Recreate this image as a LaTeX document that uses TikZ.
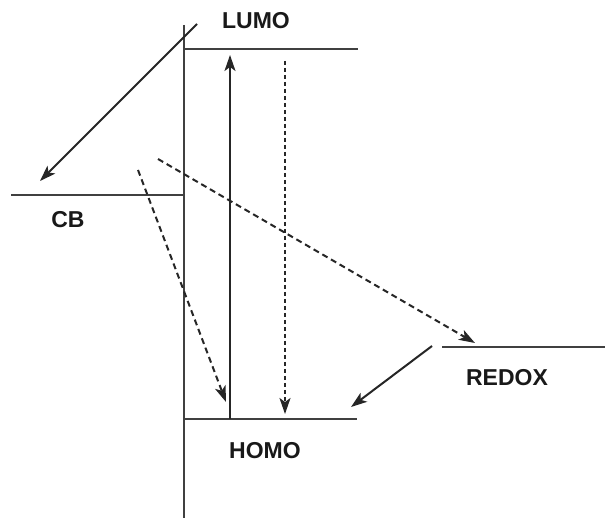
\documentclass[tikz,border=0pt]{standalone}
\usepackage{fontspec}
\setmainfont{Liberation Sans}
\usetikzlibrary{arrows.meta}
\begin{document}
\begin{tikzpicture}[x=1pt,y=-1pt,
  lvl/.style={draw=black!75,line width=2.2pt},
  lbl/.style={font=\fontsize{23}{25}\selectfont\bfseries,text=black!90,inner sep=0pt},
  arr/.style={draw=black!85,line width=2pt,-{Stealth[length=16pt,width=11pt,inset=4pt]}},
  darr/.style={arr,dash pattern=on 6pt off 4pt},
  dotarr/.style={arr,dash pattern=on 4pt off 3pt}]
\useasboundingbox[fill=white] (0,0) rectangle (605,518);
% axis
\coordinate (axtop) at (184,25);
\coordinate (axbot) at (184,518);
\draw[lvl] (axtop) -- (axbot);
% levels
\coordinate (lumoL) at (184,49); \coordinate (lumoR) at (358,49);
\coordinate (cbL) at (11,195); \coordinate (cbR) at (184,195);
\coordinate (homoL) at (184,419); \coordinate (homoR) at (357,419);
\coordinate (redL) at (442,347); \coordinate (redR) at (605,347);
\draw[lvl] (lumoL) -- (lumoR);
\draw[lvl] (cbL) -- (cbR);
\draw[lvl] (homoL) -- (homoR);
\draw[lvl] (redL) -- (redR);
% labels
\node[lbl] (lumo) at (256,21) {LUMO};
\node[lbl] (cb) at (68,220) {CB};
\node[lbl] (homo) at (265,451) {HOMO};
\node[lbl] (redox) at (507,378) {REDOX};
% arrows
\coordinate (upS) at (230,419); \coordinate (upE) at (230,55);
\draw[arr] (upS) -- (upE);
\coordinate (dnS) at (285,61); \coordinate (dnE) at (285,414);
\draw[dotarr] (dnS) -- (dnE);
\coordinate (injS) at (197,24); \coordinate (injE) at (40,181);
\draw[arr] (injS) -- (injE);
\coordinate (d1S) at (138,170); \coordinate (d1E) at (226,402);
\draw[darr] (d1S) -- (d1E);
\coordinate (d2S) at (158,159); \coordinate (d2E) at (475,343);
\draw[darr] (d2S) -- (d2E);
\coordinate (rS) at (432,346); \coordinate (rE) at (351,407);
\draw[arr] (rS) -- (rE);
\end{tikzpicture}
\end{document}
